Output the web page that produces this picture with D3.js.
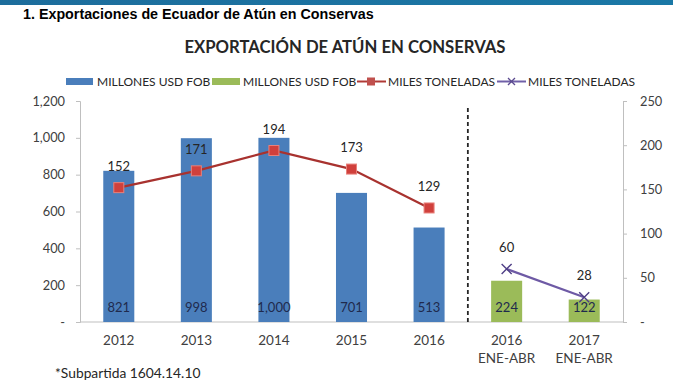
<!DOCTYPE html>
<html>
<head>
<meta charset="utf-8">
<script src="https://cdn.jsdelivr.net/npm/d3@7"></script>
<style>
  body { margin: 0; background: #fff; }
  text { font-family: Lato, "Open Sans", sans-serif; }
</style>
</head>
<body>
<div id="plothere"></div>
<script>
// chart data
var years = ["2012", "2013", "2014", "2015", "2016", "2016", "2017"];
var subLabels = ["", "", "", "", "", "ENE-ABR", "ENE-ABR"];
var millonesFob = [821, 998, 1000, 701, 513, null, null];
var millonesFobParcial = [null, null, null, null, null, 224, 122];
var milesTon = [152, 171, 194, 173, 129, null, null];
var milesTonParcial = [null, null, null, null, null, 60, 28];
var leftTicks = [0, 200, 400, 600, 800, 1000, 1200];
var rightTicks = [0, 50, 100, 150, 200, 250];
var legendNames = ["MILLONES USD FOB", "MILLONES USD FOB", "MILES TONELADAS", "MILES TONELADAS"];

function Plot(){
  var W = 673, H = 388;
  var margin = {top: 101, right: 50, bottom: 66, left: 80},
      width = W - margin.left - margin.right,
      height = H - margin.top - margin.bottom;

  var root = d3.select("#plothere").append("svg")
    .attr("width", W).attr("height", H);

  // top band + page heading
  var grad = root.append("defs").append("linearGradient").attr("id", "band");
  grad.append("stop").attr("offset", "0%").attr("stop-color", "#1d6d9c");
  grad.append("stop").attr("offset", "100%").attr("stop-color", "#1a78a6");
  root.append("rect").attr("x", 0).attr("y", 0).attr("width", W).attr("height", 5).attr("fill", "url(#band)");
  root.append("text").attr("x", 23).attr("y", 18.5)
    .style("font-family", "Liberation Sans, Arial, sans-serif")
    .style("font-weight", "bold").style("font-size", "14.3px").attr("fill", "#000")
    .text("1. Exportaciones de Ecuador de Atún en Conservas");

  root.append("text").attr("x", 345).attr("y", 53).attr("text-anchor", "middle")
    .style("font-weight", "bold").style("font-size", "16.7px").attr("fill", "#262626")
    .text("EXPORTACIÓN DE ATÚN EN CONSERVAS");

  // legend
  var lg = root.append("g").style("font-size", "12px").attr("fill", "#262626");
  lg.append("rect").attr("x", 66).attr("y", 78).attr("width", 27).attr("height", 7).attr("fill", "#4a7ebb");
  lg.append("text").attr("x", 97).attr("y", 86).text(legendNames[0]);
  lg.append("rect").attr("x", 212).attr("y", 78).attr("width", 28).attr("height", 7).attr("fill", "#9bbb59");
  lg.append("text").attr("x", 243).attr("y", 86).text(legendNames[1]);
  lg.append("line").attr("x1", 357).attr("x2", 386).attr("y1", 81.5).attr("y2", 81.5)
    .attr("stroke", "#b03a36").attr("stroke-width", 2);
  lg.append("rect").attr("x", 367).attr("y", 77.5).attr("width", 8).attr("height", 8).attr("fill", "#c0504d");
  lg.append("text").attr("x", 388).attr("y", 86).text(legendNames[2]);
  lg.append("line").attr("x1", 497).attr("x2", 526).attr("y1", 81.5).attr("y2", 81.5)
    .attr("stroke", "#7060a8").attr("stroke-width", 2);
  lg.append("path").attr("d", "M508,78L515,85M508,85L515,78").attr("stroke", "#5b4a8f").attr("stroke-width", 1.3);
  lg.append("text").attr("x", 528).attr("y", 86).text(legendNames[3]);

  var svg = root.append("g")
    .attr("transform", "translate(" + margin.left + "," + margin.top + ")");

  var idx = d3.range(years.length);
  var x = d3.scaleBand().domain(idx).range([0, width]).paddingInner(0.6).paddingOuter(0.3);
  var yL = d3.scaleLinear().domain([0, 1200]).range([height, 0]);
  var yR = d3.scaleLinear().domain([0, 250]).range([height, 0]);

  var fmt = function(v){ return v === 0 ? "-" : d3.format(",")(v); };

  // axes
  var axL = svg.append("g")
    .call(d3.axisLeft(yL).tickValues(leftTicks).tickSize(4).tickPadding(11).tickFormat(fmt));
  var axR = svg.append("g").attr("transform", "translate(" + width + ",0)")
    .call(d3.axisRight(yR).tickValues(rightTicks).tickSize(4).tickPadding(13).tickFormat(fmt));
  [axL, axR].forEach(function(a){
    a.select(".domain").attr("stroke", "#bfbfbf");
    a.selectAll(".tick line").attr("stroke", "#bfbfbf");
    a.selectAll("text").attr("fill", "#404040").style("font-size", "12.8px").style("font-family", "Lato, sans-serif");
  });
  svg.append("line").attr("x1", 0).attr("x2", width).attr("y1", height).attr("y2", height)
    .attr("stroke", "#bfbfbf");

  // x labels
  var xl = svg.append("g").style("font-size", "13.5px").attr("fill", "#404040").attr("text-anchor", "middle");
  xl.selectAll("text.yr").data(idx).enter().append("text")
    .attr("x", function(i){ return x(i) + x.bandwidth()/2; })
    .attr("y", height + 23).text(function(i){ return years[i]; });
  xl.selectAll("text.sub").data(idx.filter(function(i){ return subLabels[i]; })).enter().append("text")
    .attr("x", function(i){ return x(i) + x.bandwidth()/2; })
    .attr("y", height + 41).text(function(i){ return subLabels[i]; });

  // bars
  function bars(vals, color){
    var d = idx.filter(function(i){ return vals[i] != null; });
    svg.append("g").selectAll("rect").data(d).enter().append("rect")
      .attr("x", function(i){ return x(i); })
      .attr("y", function(i){ return yL(vals[i]); })
      .attr("width", x.bandwidth())
      .attr("height", function(i){ return height - yL(vals[i]); })
      .attr("fill", color);
    svg.append("g").selectAll("text").data(d).enter().append("text")
      .attr("x", function(i){ return x(i) + x.bandwidth()/2; })
      .attr("y", height - 10)
      .attr("text-anchor", "middle").style("font-size", "13px").attr("fill", "#1f2a4d")
      .text(function(i){ return d3.format(",")(vals[i]); });
  }
  bars(millonesFob, "#4a7ebb");
  bars(millonesFobParcial, "#9bbb59");

  // separator
  var sepX = x(4) + x.bandwidth() + x.step() * x.paddingInner() / 2;
  svg.append("line").attr("x1", sepX).attr("x2", sepX).attr("y1", 7).attr("y2", height)
    .attr("stroke", "#262626").attr("stroke-width", 1.8).attr("stroke-dasharray", "4,3");

  // lines
  var cx = function(i){ return x(i) + x.bandwidth()/2; };
  function series(vals, stroke){
    var d = idx.filter(function(i){ return vals[i] != null; });
    svg.append("path").datum(d)
      .attr("d", d3.line().x(cx).y(function(i){ return yR(vals[i]); }))
      .attr("fill", "none").attr("stroke", stroke).attr("stroke-width", 2.2);
    svg.append("g").selectAll("text").data(d).enter().append("text")
      .attr("x", cx).attr("y", function(i){ return yR(vals[i]) - 17; })
      .attr("text-anchor", "middle").style("font-size", "13px").attr("fill", "#262626")
      .text(function(i){ return vals[i]; });
    return d;
  }
  var dr = series(milesTon, "#a8322f");
  svg.append("g").selectAll("rect").data(dr).enter().append("rect")
    .attr("x", function(i){ return cx(i) - 5; })
    .attr("y", function(i){ return yR(milesTon[i]) - 5; })
    .attr("width", 10).attr("height", 10)
    .attr("fill", "#d0403c").attr("stroke", "#e8807a").attr("stroke-width", 1);
  var dp = series(milesTonParcial, "#6e5aa5");
  svg.append("g").selectAll("path").data(dp).enter().append("path")
    .attr("d", function(i){
      var px = cx(i), py = yR(milesTonParcial[i]);
      return "M" + (px-5) + "," + (py-5) + "L" + (px+5) + "," + (py+5) +
             "M" + (px-5) + "," + (py+5) + "L" + (px+5) + "," + (py-5);
    })
    .attr("stroke", "#4f3f86").attr("stroke-width", 1.4);

  // footnote
  root.append("text").attr("x", 55).attr("y", 378).style("font-size", "13.8px").attr("fill", "#262626")
    .text("*Subpartida 1604.14.10");
}

Plot();
</script>
</body>
</html>
